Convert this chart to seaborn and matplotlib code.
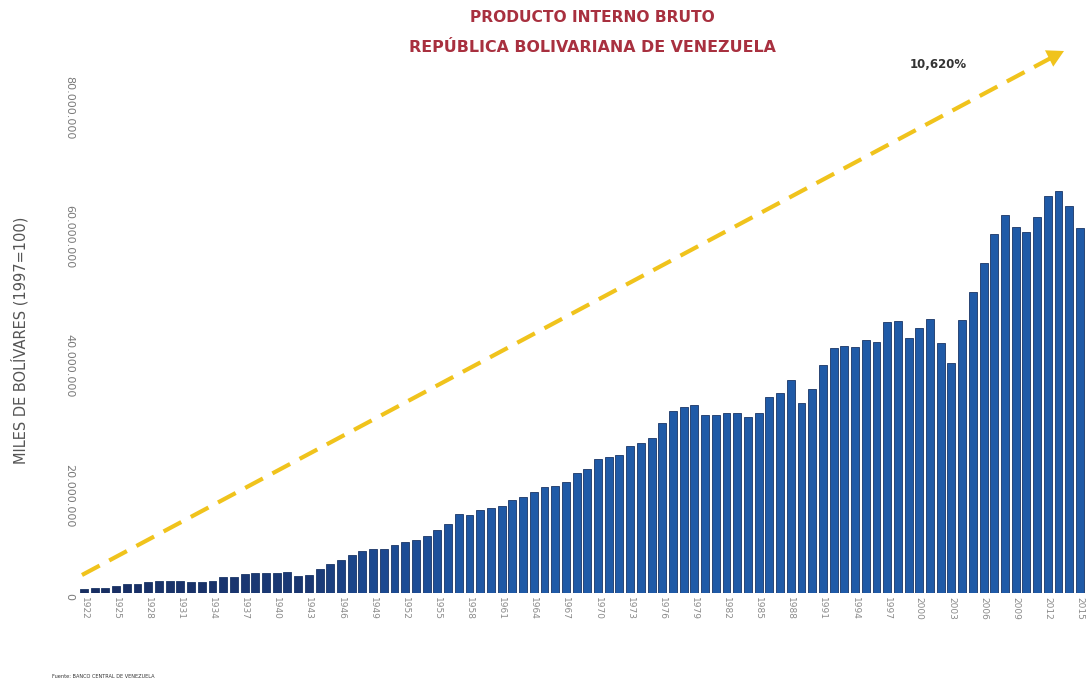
import matplotlib
matplotlib.use("Agg")
import matplotlib.pyplot as plt
from matplotlib.colors import LinearSegmentedColormap, Normalize
from matplotlib.patches import FancyArrowPatch
from matplotlib.lines import Line2D
import seaborn as sns
import pandas as pd
import math

# ---- data (thousands of bolívares, 1997 prices; read in millions) ----
years = list(range(1922, 2016))
gdp_millions = [
    0.58, 0.82, 0.85, 1.13, 1.34, 1.40, 1.65, 1.90, 1.90, 1.85,   # 1922-1931
    1.70, 1.70, 1.90, 2.50, 2.50, 2.90, 3.05, 3.15, 3.05, 3.30,   # 1932-1941
    2.60, 2.85, 3.75, 4.50, 5.10, 5.90, 6.55, 6.75, 6.75, 7.40,   # 1942-1951
    7.85, 8.20, 8.80, 9.75, 10.70, 12.20, 12.10, 12.85, 13.20, 13.45,  # 1952-1961
    14.40, 14.90, 15.70, 16.45, 16.55, 17.20, 18.60, 19.20, 20.70, 21.00,  # 1962-1971
    21.30, 22.75, 23.20, 24.00, 26.30, 28.20, 28.85, 29.10, 27.55, 27.55,  # 1972-1981
    27.80, 27.80, 27.20, 27.80, 30.40, 30.90, 32.90, 29.40, 31.60, 35.30,  # 1982-1991
    37.90, 38.20, 38.00, 39.20, 38.90, 41.94, 42.07, 39.45, 41.01, 42.41,  # 1992-2001
    38.65, 35.65, 42.17, 46.52, 51.12, 55.59, 58.53, 56.65, 55.81, 58.14,  # 2002-2011
    61.41, 62.23, 59.81, 56.45,                                            # 2012-2015
]
ytick_values = [0, 20_000_000, 40_000_000, 60_000_000, 80_000_000]
ytick_labels = ["0", "20.000.000", "40.000.000", "60.000.000", "80.000.000"]
xtick_years = list(range(1922, 2016, 3))
title_lines = ["PRODUCTO INTERNO BRUTO", "REPÚBLICA BOLIVARIANA DE VENEZUELA"]
growth_label = "10,620%"
ylabel = "MILES DE BOLÍVARES (1997=100)"
source = "Fuente: BANCO CENTRAL DE VENEZUELA"

df = pd.DataFrame({"year": [str(y) for y in years],
                   "gdp": [v * 1_000_000 for v in gdp_millions]})

# ---- style ----
sns.set_theme(style="white")
plt.rcParams["font.family"] = ["DejaVu Sans"]

W, H = 1087, 679
fig = plt.figure(figsize=(W / 100, H / 100), dpi=100)
ax = fig.add_axes([78.6 / W, 1 - 593 / H, 1006.7 / W, (593 - 76) / H])

cmap = LinearSegmentedColormap.from_list("blues", ["#182a5c", "#1c4a92", "#1f5aa7"])
norm = Normalize(vmin=0, vmax=14_000_000)
palette = {y: cmap(norm(min(v, 14_000_000))) for y, v in zip(df["year"], df["gdp"])}

sns.barplot(data=df, x="year", y="gdp", hue="year", palette=palette, legend=False,
            width=0.74, edgecolor="#1a3566", linewidth=0.6, ax=ax, saturation=1)

ax.set_xlim(-0.5, len(years) - 0.5)
ax.set_ylim(0, 80_000_000)
for s in ax.spines.values():
    s.set_visible(False)

# x ticks every 3 years
pos = [years.index(y) for y in xtick_years]
ax.set_xticks(pos)
ax.set_xticklabels([str(y) for y in xtick_years], rotation=-90, fontsize=6.5,
                   color="#8a8a8a", va="top", ha="center")
ax.tick_params(axis="x", length=0, pad=3)

# y ticks
ax.set_yticks(ytick_values)
ax.set_yticklabels(ytick_labels, rotation=-90, fontsize=8, color="#7a7a7a",
                   va="top", ha="right")
ax.tick_params(axis="y", length=0, pad=3)
ax.set_xlabel("")
ax.set_ylabel("")

fig.text(20 / W, 1 - 340 / H, ylabel, rotation=90, ha="center", va="center",
         fontsize=10.5, color="#555555")

# titles
fig.text(592 / W, 1 - 17 / H, title_lines[0], ha="center", va="center",
         fontsize=11.2, fontweight="bold", color="#a8303f")
fig.text(592 / W, 1 - 48 / H, title_lines[1], ha="center", va="center",
         fontsize=11.4, fontweight="bold", color="#a8303f")

# growth arrow (dashed shaft + solid head), in figure pixel positions
sx, sy = 82, 575
ex, ey = 1064, 51
L = math.hypot(ex - sx, ey - sy)
ux, uy = (ex - sx) / L, (ey - sy) / L
hx, hy = ex - 12 * ux, ey - 12 * uy
arrow_color = "#f0c31c"
fig.add_artist(Line2D([sx / W, hx / W], [1 - sy / H, 1 - hy / H],
                      transform=fig.transFigure, color=arrow_color, linewidth=3,
                      linestyle=(0, (4.8, 2.6)), solid_capstyle="butt",
                      dash_capstyle="butt"))
fig.add_artist(FancyArrowPatch((hx / W - 0.002 * ux, 1 - hy / H + 0.002 * uy),
                               (ex / W, 1 - ey / H), transform=fig.transFigure,
                               arrowstyle="-|>,head_length=1.0,head_width=0.55",
                               mutation_scale=12, color=arrow_color, linewidth=0,
                               shrinkA=0, shrinkB=0))
fig.text(938 / W, 1 - 65 / H, growth_label, ha="center", va="center",
         fontsize=8.5, fontweight="bold", color="#333333")

fig.text(52 / W, 1 - 676 / H, source, ha="left", va="center", fontsize=3.6,
         color="#333333")

fig.savefig("out.png", dpi=100, facecolor="white")
